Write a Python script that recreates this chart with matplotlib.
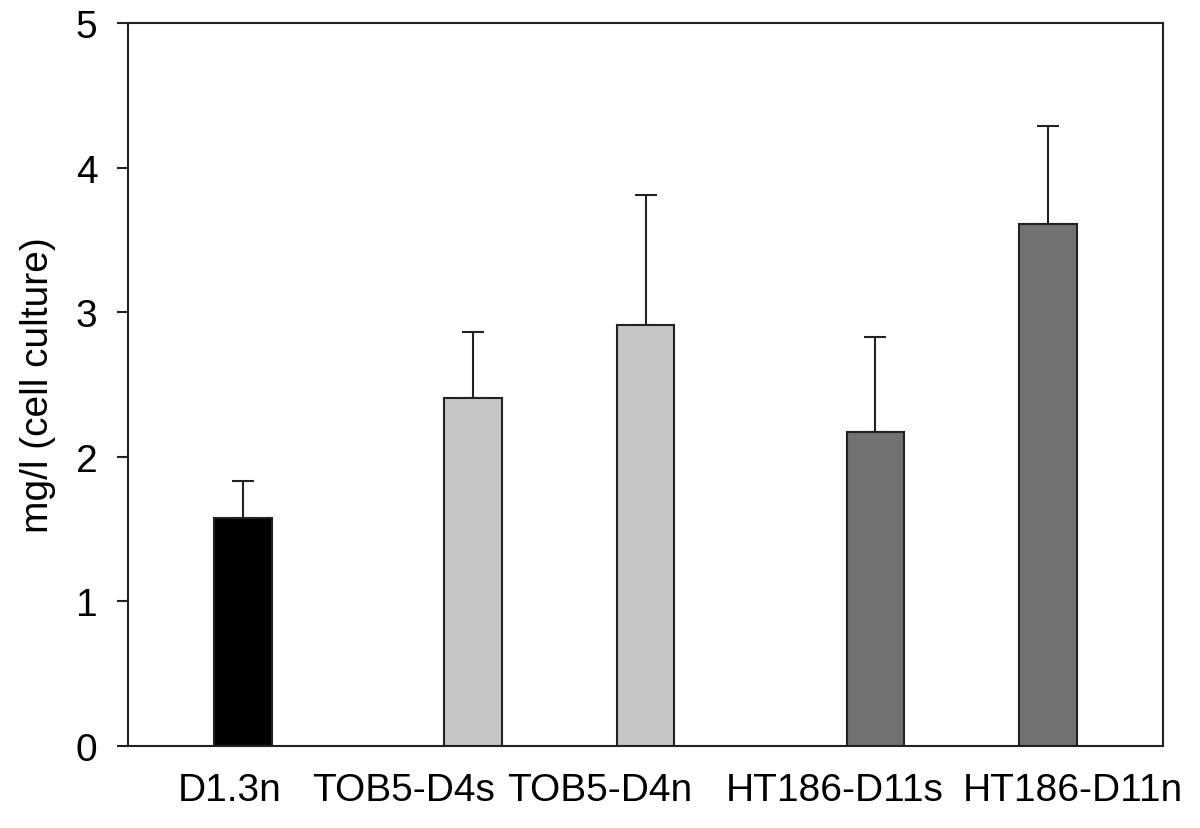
import numpy as np
import matplotlib.pyplot as plt

plt.rcParams['font.family'] = ['Liberation Sans', 'DejaVu Sans']

# data
labels = ['D1.3n', 'TOB5-D4s', 'TOB5-D4n', 'HT186-D11s', 'HT186-D11n']
means = [1.58, 2.41, 2.91, 2.17, 3.61]
errs = [0.25, 0.45, 0.90, 0.66, 0.68]
colors = ['#000000', '#c6c6c6', '#c6c6c6', '#727272', '#727272']

# bar slots: a wider step before each new group
x = np.cumsum([0, 4 / 3, 1, 4 / 3, 1])
# label text is not centred under the bars in the original
label_x = [-0.075, 0.93, 2.07, 3.43, 4.81]

line_col = '#222222'

fig = plt.figure(figsize=(12, 8.29), dpi=100)
ax = fig.add_axes([128 / 1200, 1 - 747 / 829, (1163 - 128) / 1200, (747 - 24) / 829])

ax.bar(x, means, width=1 / 3, color=colors, edgecolor=line_col, linewidth=1.5,
       zorder=2)
ax.errorbar(x, means, yerr=[np.zeros(len(errs)), errs], fmt='none',
            ecolor=line_col, elinewidth=1.5, capsize=8, capthick=1.5, zorder=1)

ax.set_xlim(-2 / 3, 5 + 1 / 3)
ax.set_ylim(0, 5)
ax.set_yticks([0, 1, 2, 3, 4, 5])
ax.set_xticks(label_x)
ax.set_xticklabels(labels, fontsize=28)
ax.tick_params(axis='x', length=0, pad=19)
ax.tick_params(axis='y', length=8, width=1.5, pad=14, labelsize=28,
               color=line_col)
ax.set_ylabel('mg/l (cell culture)', fontsize=28, labelpad=14)

for s in ax.spines.values():
    s.set_linewidth(1.5)
    s.set_color(line_col)

fig.savefig('out.png', dpi=100)
